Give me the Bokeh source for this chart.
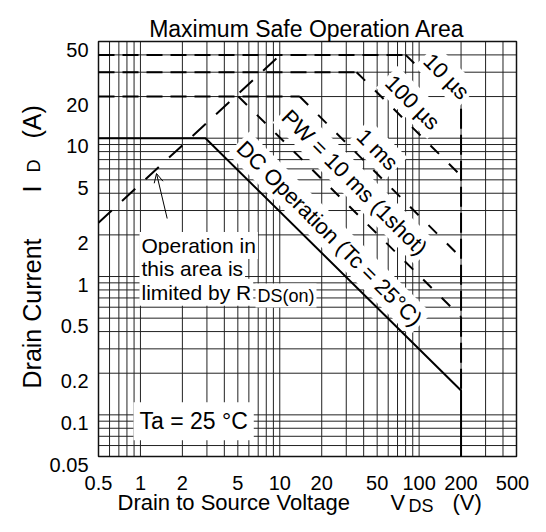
import math
from bokeh.plotting import figure
from bokeh.models import Range1d, Label, Arrow, OpenHead
from bokeh.core.properties import value
from bokeh.embed import file_html
from bokeh.resources import INLINE

# ---------------- data ----------------
x_ticks = [0.5, 1, 2, 5, 10, 20, 50, 100, 200, 500]
x_tick_labels = ["0.5", "1", "2", "5", "10", "20", "50", "100", "200", "500"]
y_ticks = [0.05, 0.1, 0.2, 0.5, 1, 2, 5, 10, 20, 50]
y_tick_labels = ["0.05", "0.1", "0.2", "0.5", "1", "2", "5", "10", "20", "50"]
x_grid = [0.6, 0.7, 0.8, 0.9, 1, 2, 3, 4, 5, 6, 7, 8, 9, 10,
          20, 30, 40, 50, 60, 70, 80, 90, 100, 200, 300, 400]
y_grid = [0.06, 0.07, 0.08, 0.09, 0.1, 0.2, 0.3, 0.4, 0.5, 0.6, 0.7,
          0.8, 0.9, 1, 2, 3, 4, 5, 6, 7, 8, 9, 10, 20, 30, 40]
x_min, x_max = 0.5, 500
y_min, y_max = 0.05, 50

rds_v = [0.5, 10.1]
rds_i = [2.45, 40]
us10_v = [0.5, 80, 200]
us10_i = [40, 40, 16.3]
us100_v = [0.5, 35.6, 200]
us100_i = [30, 30, 5.35]
ms1_v = [0.5, 13.9, 200]
ms1_i = [20, 20, 1.37]
ms10_v = [5.05, 200]
ms10_i = [20, 0.51]
dc_v = [0.5, 2.93, 200, 200]
dc_i = [10, 10, 0.15, 0.05]
vdss_v = [200, 200]
vdss_i = [16.3, 0.15]

# ---------------- geometry (canvas pixels) ----------------
W, H = 530, 516
FR_L, FR_R, FR_T, FR_B = 98, 516, 41, 456   # chart box
DX = (FR_R - FR_L) / math.log10(x_max / x_min)
DY = (FR_B - FR_T) / math.log10(y_max / y_min)

def X(px):
    return x_min * 10 ** ((px - FR_L) / DX)

def Y(py):
    return y_max * 10 ** (-(py - FR_T) / DY)

FONT = "Liberation Sans"
INK = "black"

p = figure(width=W, height=H, x_axis_type="log", y_axis_type="log",
           x_range=Range1d(X(0), X(W)), y_range=Range1d(Y(H), Y(0)),
           x_axis_location=None, y_axis_location=None,
           output_backend="svg", toolbar_location=None, title=None,
           min_border=0, min_border_left=0, min_border_right=0,
           min_border_top=0, min_border_bottom=0)
p.background_fill_color = "white"
p.border_fill_color = "white"
p.outline_line_color = None
for g in p.grid:
    g.visible = False

# grid
p.segment(x0=x_grid, y0=[y_min] * len(x_grid), x1=x_grid, y1=[y_max] * len(x_grid),
          line_color="#222222", line_width=1)
p.segment(x0=[x_min] * len(y_grid), y0=y_grid, x1=[x_max] * len(y_grid), y1=y_grid,
          line_color="#222222", line_width=1)
# frame
p.quad(left=[x_min], right=[x_max], bottom=[y_min], top=[y_max],
       fill_color=None, line_color="#111111", line_width=1.5)

# tick labels (last x label nudged so it stays inside the page)
x_nudge = [0] * (len(x_ticks) - 1) + [-4]
p.text(x=x_ticks, y=[y_min] * len(x_ticks), text=x_tick_labels,
       text_align="center", text_baseline="alphabetic", y_offset=26, x_offset=x_nudge,
       text_font=value(FONT), text_font_size="20px", text_color=INK)
p.text(x=[x_min] * len(y_ticks), y=y_ticks, text=y_tick_labels,
       text_align="right", text_baseline="alphabetic", x_offset=-10, y_offset=8,
       text_font=value(FONT), text_font_size="20px", text_color=INK)

# curves
LW = 2
p.line(rds_v, rds_i, line_color=INK, line_width=LW, line_dash="18 14")
for v, i in ((us10_v, us10_i), (us100_v, us100_i), (ms1_v, ms1_i)):
    p.line(v[:2], i[:2], line_color=INK, line_width=LW, line_dash="16 8")
    p.line(v[1:], i[1:], line_color=INK, line_width=LW, line_dash="12 14")
p.line(ms10_v, ms10_i, line_color=INK, line_width=LW, line_dash="12 14")
p.line(vdss_v, vdss_i, line_color=INK, line_width=LW, line_dash="20 6")
p.line(dc_v, dc_i, line_color=INK, line_width=LW)

# ---------------- texts ----------------
def lab(px, py, text, size, align="left", baseline="alphabetic", angle=0.0,
        bg=None, pad=0):
    kw = dict(x=X(px), y=Y(py), text=text, text_font=FONT,
              text_font_size=f"{size}px", text_align=align,
              text_baseline=baseline, angle=angle, text_color=INK)
    if bg:
        kw["background_fill_color"] = bg
        kw["padding"] = pad
    p.add_layout(Label(**kw))

# title
lab(306.5, 28, "Maximum Safe Operation Area", 23, align="center")
# x axis label (kept inside the page)
lab(117, 502, "Drain to Source Voltage", 22)
lab(390, 502, "V", 22)
lab(408, 505, "DS", 18)
lab(452, 502, "(V)", 22)
# y axis label
lab(31.7, 388, "Drain Current", 25, angle=math.pi / 2)
lab(31.7, 192, "I", 25, angle=math.pi / 2)
lab(33.5, 172, "D", 18, angle=math.pi / 2)
lab(31.7, 138, "(A)", 25, angle=math.pi / 2)

# curve labels
rot = -math.pi / 4
lab(446, 76, "10 µs", 22, align="center", baseline="middle", angle=rot, bg="white", pad=3)
lab(412, 102, "100 µs", 22, align="center", baseline="middle", angle=rot, bg="white", pad=3)
lab(377, 149, "1 ms", 22, align="center", baseline="middle", angle=rot, bg="white", pad=3)
lab(354, 182, "PW = 10 ms (1shot)", 22, align="center", baseline="middle", angle=rot, bg="white", pad=3)
lab(329, 233, "DC Operation (Tc = 25°C)", 22, align="center", baseline="middle", angle=rot, bg="white", pad=3)

# RDS(on) note
lab(139, 245, "Operation in", 21, bg="white", pad=2)
lab(139, 268, "this area is", 21, bg="white", pad=2)
lab(139, 291.7, "limited by R", 21, bg="white", pad=2)
lab(255, 295, "DS(on)", 18, bg="white", pad=2)
p.add_layout(Arrow(end=OpenHead(size=9, line_width=1, line_color=INK),
                   x_start=X(166.7), y_start=Y(218), x_end=X(156), y_end=Y(173),
                   line_width=1, line_color=INK))

# ambient
lab(133, 420.7, "Ta = 25 °C", 23, bg="white", pad=6)

open("out.html", "w").write(file_html(p, INLINE))
